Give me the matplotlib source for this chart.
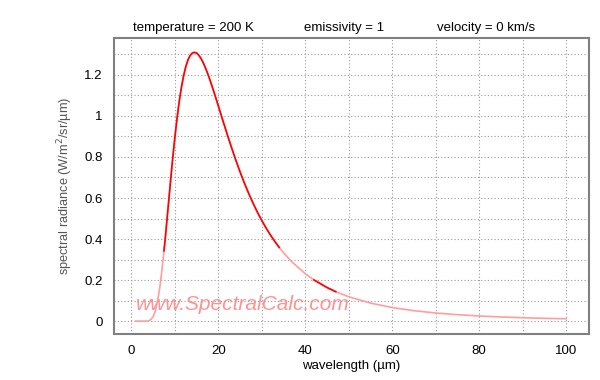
import numpy as np
import matplotlib.pyplot as plt

plt.rcParams['font.family'] = ['Liberation Sans', 'DejaVu Sans']

# wavelength (um) and spectral radiance (W/m2/sr/um)
wavelength = [1, 2, 3, 3.5, 4, 4.5, 5, 5.5, 6, 6.5, 6.75, 7, 7.5, 7.75, 8, 8.25, 8.5, 9, 9.25,
              9.5, 9.75, 10, 10.5, 11, 11.5, 12, 12.5, 13, 13.5, 14, 14.5, 15, 15.5, 16, 16.5,
              17, 17.5, 18, 19, 20, 21, 22, 23, 24, 25, 26, 27, 28, 29, 30, 31, 32, 33, 34,
              35, 37, 40, 42, 45, 47, 50, 55, 60, 65, 70, 75, 80, 85, 90, 95, 100]
radiance = [0.0, 0.0, 0.00002, 0.00027, 0.0018, 0.0074, 0.0214, 0.0493, 0.095, 0.160, 0.1998,
            0.2435, 0.3426, 0.395, 0.4515, 0.509, 0.5666, 0.681, 0.7378, 0.7926, 0.8453,
            0.8955, 0.9883, 1.0698, 1.1383, 1.195, 1.2397, 1.2724, 1.2944, 1.3065, 1.310,
            1.307, 1.2962, 1.2805, 1.2605, 1.236, 1.2094, 1.180, 1.116, 1.0487, 0.980, 0.913,
            0.848, 0.7856, 0.727, 0.6723, 0.6213, 0.574, 0.530, 0.490, 0.4532, 0.419, 0.3879,
            0.3592, 0.333, 0.2868, 0.2308, 0.2005, 0.1636, 0.1434, 0.1185, 0.0877, 0.0661,
            0.0507, 0.0395, 0.0312, 0.0249, 0.0202, 0.01648, 0.01359, 0.0113]

header = ['temperature = 200 K', 'emissivity = 1', 'velocity = 0 km/s']
header_x = [0.3225, 0.573, 0.81]

wl = np.array(wavelength)
rad = np.array(radiance)

fig = plt.figure(figsize=(6, 3.8), dpi=100)
ax = fig.add_axes([0.19, 0.121, 0.792, 0.779])

ax.plot(wl, rad, color='#ff9e9e', lw=1.2, zorder=3)
for lo, hi in [(7.5, 34.5), (42, 48)]:
    m = (wl >= lo) & (wl <= hi)
    ax.plot(wl[m], rad[m], color='#ff0000', lw=1.2, zorder=4)

ax.text(1, 0.08, 'www.SpectralCalc.com', color='#ff8080', alpha=0.85, fontsize=15,
        style='italic', va='center', ha='left', zorder=2)

ax.set_xlim(-4, 105.3)
ax.set_ylim(-0.063, 1.38)
ax.set_xticks(np.arange(0, 101, 20))
ax.set_xticks(np.arange(0, 101, 10), minor=True)
ax.set_yticks(np.arange(0, 1.21, 0.2))
ax.set_yticks(np.arange(0, 1.31, 0.1), minor=True)
ax.set_yticklabels(['0', '0.2', '0.4', '0.6', '0.8', '1', '1.2'])
ax.grid(which='both', color='#999999', ls=(0, (1, 2)), lw=0.8)
ax.tick_params(which='both', length=0, labelsize=9.5, pad=8)

for s in ax.spines.values():
    s.set_color('#808080')
    s.set_linewidth(1.5)

ax.set_xlabel('wavelength (µm)', fontsize=9.5, labelpad=2)
ax.set_ylabel('spectral radiance (W/m$^2$/sr/µm)', fontsize=9.2, color='#555555', labelpad=7)

for t, x in zip(header, header_x):
    fig.text(x, 0.918, t, fontsize=9.5, ha='center', va='baseline')

fig.savefig('out.png', dpi=100)
